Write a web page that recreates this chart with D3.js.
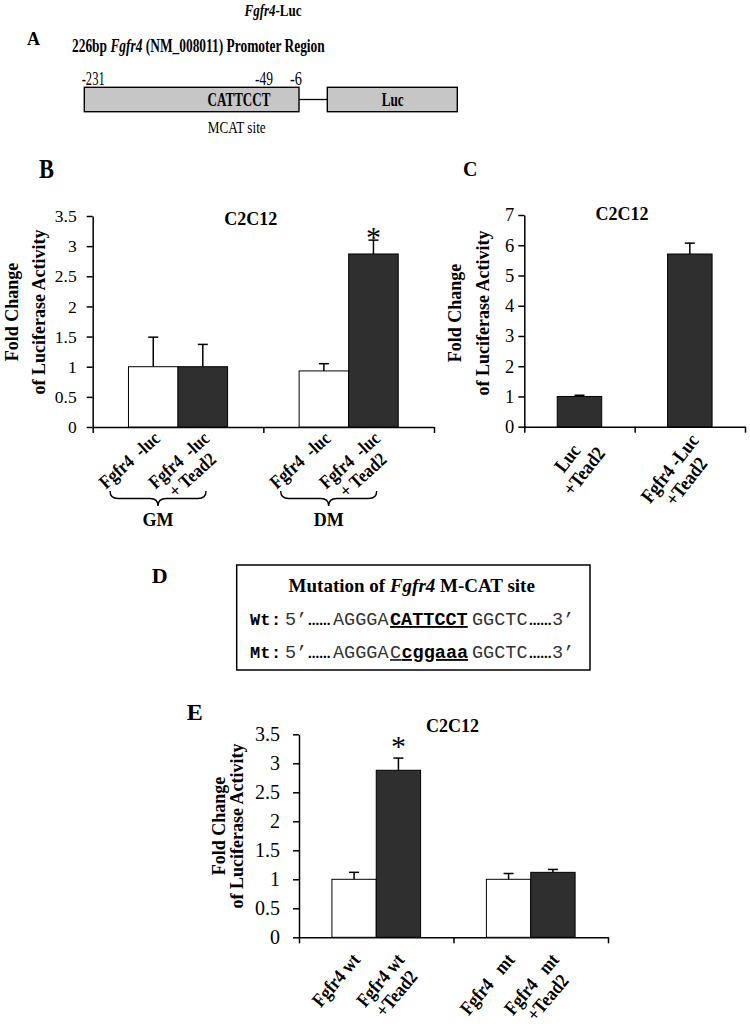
<!DOCTYPE html>
<html>
<head>
<meta charset="utf-8">
<script src="https://cdn.jsdelivr.net/npm/d3@7"></script>
<style>
  body { margin: 0; background: #fff; }
  text { font-family: "Liberation Serif", "Times New Roman", serif; fill: #000; }
</style>
</head>
<body>
<svg id="chart"></svg>
<script>
//DATA
const promoterSites = [-231, -49, -6];

const bGroups = ["GM", "DM"];
const bLabels = [[["Fgfr4  -luc"], ["Fgfr4  -luc", "+ Tead2"]], [["Fgfr4  -luc"], ["Fgfr4  -luc", "+ Tead2"]]];
const bValues = [[1.0, 1.0], [0.93, 2.87]];
const bErrors = [[0.49, 0.37], [0.12, 0.23]];
const bStars = [[false, false], [false, true]];
const bTicks = [0, 0.5, 1, 1.5, 2, 2.5, 3, 3.5];

const cLabels = [[["Luc", "+Tead2"]], [["Fgfr4 -Luc", "+Tead2"]]];
const cValues = [[1.0], [5.71]];
const cErrors = [[0.04], [0.36]];
const cStars = [[false], [false]];
const cTicks = [0, 1, 2, 3, 4, 5, 6, 7];

const eLabels = [[["Fgfr4 wt"], ["Fgfr4 wt", "+Tead2"]], [["Fgfr4   mt"], ["Fgfr4   mt", "+Tead2"]]];
const eValues = [[1.0, 2.88], [1.0, 1.12]];
const eErrors = [[0.12, 0.21], [0.10, 0.05]];
const eStars = [[false, true], [false, false]];
const eTicks = [0, 0.5, 1, 1.5, 2, 2.5, 3, 3.5];

const dark = "#2f2f2f";
const mono = "'Liberation Mono', 'Courier New', monospace";

const svg = d3.select("#chart").attr("width", 750).attr("height", 1024);

//helper: plain text, optionally squeezed to a given width
function txt(x, y, s, size, opts) {
  opts = opts || {};
  const g = svg.append("g").attr("transform", "translate(" + x + "," + y + ")");
  const t = g.append("text")
    .attr("font-size", size)
    .attr("font-weight", opts.bold ? "bold" : null)
    .attr("text-anchor", opts.anchor || "start");
  if (Array.isArray(s)) {
    s.forEach(p => t.append("tspan").attr("font-style", p.i ? "italic" : null).text(p.t));
  } else t.text(s);
  if (opts.len) {
    const w = t.node().getComputedTextLength();
    t.attr("transform", "scale(" + (opts.len / w) + ",1)");
  }
  return t;
}

//rotated multi line label, lines centred in a block whose end sits at x,y
//glyphs squeezed a little along the text, like the reference
function rotLabel(g, x, y, lines, size, lh, ang) {
  const sq = 0.87;
  const r = g.append("g").attr("transform", "translate(" + x + "," + y + ") rotate(" + ang + ") scale(" + sq + ",1)");
  const ts = lines.map((s, i) => r.append("text")
    .attr("y", i * lh).attr("font-size", size).attr("font-weight", "bold")
    .style("white-space", "pre").text(s));
  const w = d3.max(ts, t => t.node().getComputedTextLength());
  ts.forEach(t => t.attr("x", -w / 2).attr("text-anchor", "middle"));
}

//curly brace opening upward
function brace(g, x0, x1, top, h) {
  const c = (x0 + x1) / 2, m = top + h / 2, r = 8;
  const p = d3.path();
  p.moveTo(x0, top);
  p.quadraticCurveTo(x0, m, x0 + r, m);
  p.lineTo(c - r, m);
  p.quadraticCurveTo(c, m, c, top + h);
  p.quadraticCurveTo(c, m, c + r, m);
  p.lineTo(x1 - r, m);
  p.quadraticCurveTo(x1, m, x1, top);
  g.append("path").attr("d", p.toString()).attr("fill", "none").attr("stroke", "#000").attr("stroke-width", 1.4);
}

function barPanel(o) {
  const g = svg.append("g");
  const y = d3.scaleLinear().domain([0, o.max]).range([o.y0, o.yTop]);
  const n = o.values.length;
  const gx = d3.scaleBand().domain(d3.range(n)).range([o.x0, o.x1]);
  const inner = d3.scaleBand().domain(d3.range(o.values[0].length))
    .range([0, gx.bandwidth()]).paddingInner(0).paddingOuter(o.outer);
  const xl = d3.scaleLinear().domain([0, n]).range([o.x0, o.x1]);

  const ya = g.append("g").attr("transform", "translate(" + o.x0 + ",0)")
    .call(d3.axisLeft(y).tickValues(o.ticks).tickSize(6).tickSizeOuter(0).tickPadding(o.pad).tickFormat(d3.format("")));
  ya.attr("font-size", o.tickFont).attr("font-family", null);
  ya.selectAll("path, line").attr("stroke", "#000").attr("stroke-width", 1.5);

  const xa = g.append("g").attr("transform", "translate(0," + o.y0 + ")")
    .call(d3.axisBottom(xl).tickValues(d3.range(n + 1)).tickSize(6).tickSizeOuter(0).tickFormat(""));
  xa.selectAll("path, line").attr("stroke", "#000").attr("stroke-width", 1.5);

  const rows = o.values.flatMap((grp, i) => grp.map((v, j) => ({
    i: i, j: j, v: v, e: o.errors[i][j], star: o.stars[i][j], lines: o.labels[i][j]
  })));
  const cx = d => gx(d.i) + inner(d.j) + inner.bandwidth() / 2;

  g.selectAll("rect.bar").data(rows).enter().append("rect")
    .attr("class", "bar")
    .attr("x", d => gx(d.i) + inner(d.j))
    .attr("width", inner.bandwidth())
    .attr("y", d => y(d.v))
    .attr("height", d => o.y0 - y(d.v))
    .attr("fill", d => o.colors[d.j])
    .attr("stroke", "#000").attr("stroke-width", 1);

  g.selectAll("line.err").data(rows).enter().append("line")
    .attr("class", "err")
    .attr("x1", cx).attr("x2", cx)
    .attr("y1", d => y(d.v)).attr("y2", d => y(d.v + d.e))
    .attr("stroke", "#000").attr("stroke-width", 1.5);
  g.selectAll("line.cap").data(rows).enter().append("line")
    .attr("class", "cap")
    .attr("x1", d => cx(d) - 5).attr("x2", d => cx(d) + 5)
    .attr("y1", d => y(d.v + d.e)).attr("y2", d => y(d.v + d.e))
    .attr("stroke", "#000").attr("stroke-width", 1.5);

  g.selectAll("text.star").data(rows.filter(d => d.star)).enter().append("text")
    .attr("class", "star")
    .attr("x", cx).attr("y", d => y(d.v + d.e) + o.starDy)
    .attr("text-anchor", "middle").attr("font-size", 30).text("*");

  rows.forEach(d => rotLabel(g, cx(d) + o.ldx, o.y0 + o.ldy, d.lines, o.labFont, o.lh, o.ang));

  //y title
  const ym = o.titleMid;
  [["Fold Change", o.yt1], ["of Luciferase Activity", o.yt2]].forEach(l => {
    g.append("text").attr("transform", "translate(" + l[1] + "," + ym + ") rotate(-90)")
      .attr("text-anchor", "middle").attr("font-size", 18).attr("font-weight", "bold").text(l[0]);
  });

  g.append("text").attr("x", o.tx).attr("y", o.ty).attr("text-anchor", "middle")
    .attr("font-size", 18).attr("font-weight", "bold").text("C2C12");

  return {g: g, gx: gx, y: y};
}

//PANEL A
txt(27, 45, "A", 18, {bold: true});
txt(273, 16, [{t: "Fgfr4", i: true}, {t: "-Luc"}], 17, {bold: true, anchor: "middle", len: 57});
txt(72, 52, [{t: "226bp "}, {t: "Fgfr4", i: true}, {t: " (NM_008011) Promoter Region"}], 18, {bold: true, len: 253});

const bp = d3.scaleLinear().domain([promoterSites[0], promoterSites[2]]).range([84.3, 299]);
svg.append("line").attr("x1", bp(-6)).attr("x2", 327.3).attr("y1", 99.5).attr("y2", 99.5)
  .attr("stroke", "#000").attr("stroke-width", 1.3);
svg.append("rect").attr("x", bp(-231)).attr("y", 87.3).attr("width", bp(-6) - bp(-231)).attr("height", 24.4)
  .attr("fill", "#c6c6c6").attr("stroke", "#000").attr("stroke-width", 1.4);
svg.append("rect").attr("x", 327.3).attr("y", 87.3).attr("width", 130).attr("height", 24.4)
  .attr("fill", "#c6c6c6").attr("stroke", "#000").attr("stroke-width", 1.4);
txt(bp(-231) - 2.6, 85, "-231", 18, {len: 23});
txt(bp(-49) - 3, 85, "-49", 18, {len: 18});
txt(bp(-6) + 3, 85, "-6", 18, {anchor: "end", len: 12});
txt(239, 106, "CATTCCT", 18, {bold: true, anchor: "middle", len: 63});
txt(392.7, 106, "Luc", 18, {bold: true, anchor: "middle", len: 22});
txt(236.7, 133, "MCAT site", 16, {anchor: "middle", len: 58});

//PANEL B
txt(39, 178, "B", 28, {bold: true, len: 15});
const pb = barPanel({
  values: bValues, errors: bErrors, stars: bStars, labels: bLabels,
  colors: ["#fff", dark], max: 3.5, ticks: bTicks,
  x0: 92.7, x1: 434, y0: 427, yTop: 216, outer: 0.722,
  pad: 10, tickFont: 17.5, starDy: 7, ldx: 8, ldy: 13, labFont: 19, lh: 20, ang: -42,
  yt1: 18, yt2: 45, titleMid: 312, tx: 250.7, ty: 225
});
bGroups.forEach((name, i) => {
  const c = pb.gx(i) + pb.gx.bandwidth() / 2 - 20;
  brace(pb.g, c - 48, c + 48, 491, 15);
  pb.g.append("text").attr("x", c).attr("y", 526).attr("text-anchor", "middle")
    .attr("font-size", 18).attr("font-weight", "bold").text(name);
});

//PANEL C
txt(463, 176, "C", 20, {bold: true});
barPanel({
  values: cValues, errors: cErrors, stars: cStars, labels: cLabels,
  colors: [dark], max: 7, ticks: cTicks,
  x0: 524.3, x1: 745, y0: 426.7, yTop: 215, outer: 0.74,
  pad: 4, tickFont: 18.5, starDy: 0, ldx: 10, ldy: 14, labFont: 20, lh: 21, ang: -52,
  yt1: 461, yt2: 489, titleMid: 313, tx: 622, ty: 220
});

//PANEL D
txt(151.7, 583, "D", 22, {bold: true});
svg.append("rect").attr("x", 236.7).attr("y", 565).attr("width", 353.3).attr("height", 105)
  .attr("fill", "none").attr("stroke", "#000").attr("stroke-width", 1.5);
txt(411.7, 592, [{t: "Mutation of "}, {t: "Fgfr4", i: true}, {t: " M-CAT site"}], 19, {bold: true, anchor: "middle"});

function seqRow(yb, parts) {
  parts.forEach(p => {
    const t = svg.append("text").attr("x", p.x).attr("y", yb)
      .attr("font-size", p.dots ? 15 : (p.s || 18.5))
      .attr("font-weight", p.b ? "bold" : null)
      .style("font-family", p.dots ? null : mono)
      .style("fill", p.b || p.dots ? "#000" : "#333")
      .text(p.t);
    if (p.u) t.style("text-decoration", "underline");
  });
}
seqRow(625, [
  {x: 250, t: "Wt", b: true, s: 17}, {x: 271, t: ":", b: true, s: 17}, {x: 285, t: "5\u2019"},
  {x: 308, t: "......", dots: true, b: true}, {x: 333, t: "AGGGA"},
  {x: 390, t: "CATTCCT", b: true, u: true}, {x: 472, t: "GGCTC"},
  {x: 529, t: "......", dots: true, b: true}, {x: 552, t: "3\u2019"}
]);
seqRow(658, [
  {x: 250, t: "Mt", b: true, s: 17}, {x: 271, t: ":", b: true, s: 17}, {x: 285, t: "5\u2019"},
  {x: 308, t: "......", dots: true, b: true}, {x: 333, t: "AGGGA"}, {x: 390, t: "C", u: true},
  {x: 401.5, t: "cggaaa", b: true, u: true}, {x: 472, t: "GGCTC"},
  {x: 529, t: "......", dots: true, b: true}, {x: 552, t: "3\u2019"}
]);

//PANEL E
txt(186.7, 720, "E", 24, {bold: true});
barPanel({
  values: eValues, errors: eErrors, stars: eStars, labels: eLabels,
  colors: ["#fff", dark], max: 3.5, ticks: eTicks,
  x0: 299, x1: 608, y0: 937.3, yTop: 734.3, outer: 0.742,
  pad: 13, tickFont: 20, starDy: -2, ldx: 7, ldy: 23, labFont: 19.5, lh: 21, ang: -50,
  yt1: 224.5, yt2: 243, titleMid: 826, tx: 452.5, ty: 731.7
});
</script>
</body>
</html>
